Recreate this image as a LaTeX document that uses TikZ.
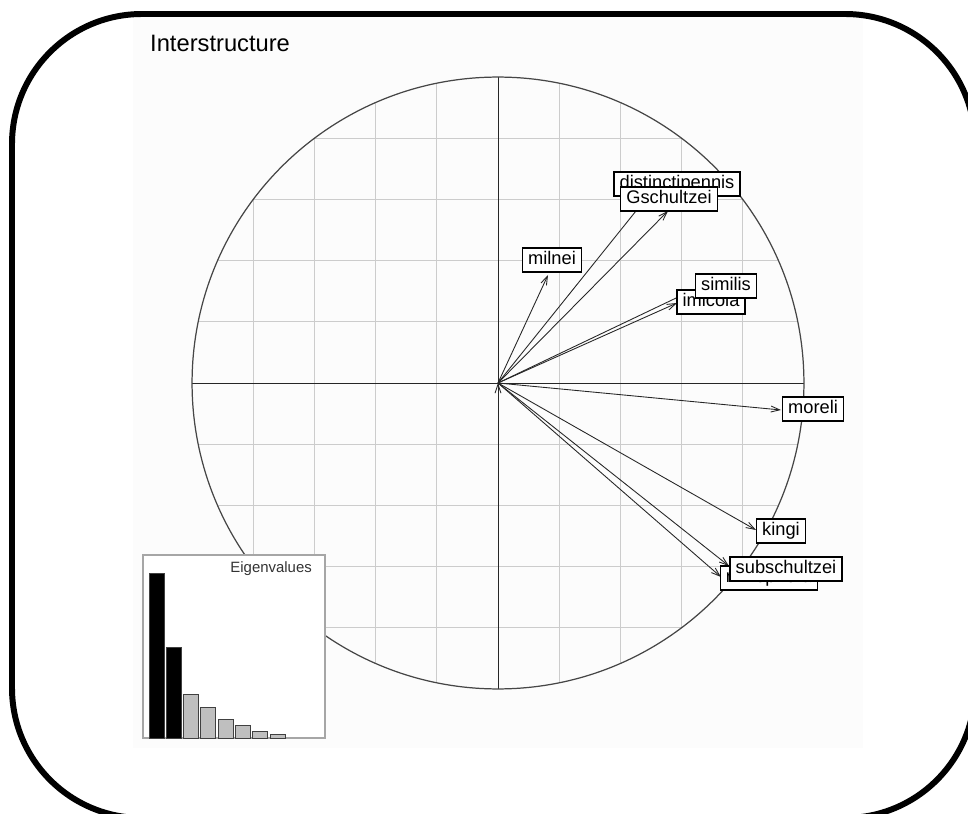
\documentclass[tikz,border=0pt]{standalone}
\usepackage{fontspec}
\setmainfont{Liberation Sans}
\usetikzlibrary{arrows.meta}

\begin{document}
\begin{tikzpicture}[x=0.02cm,y=-0.02cm,>={Straight Barb[length=5pt,width=3.4pt]},
  lbl/.style={draw=black,fill=white,line width=0.7pt,inner xsep=3.2pt,inner ysep=0pt,
    minimum height=0.48cm,text height=7.6pt,text depth=2.2pt,font=\fontsize{10.4}{12}\selectfont},
  vec/.style={->,draw=black!85,line width=0.5pt},
  gridline/.style={draw=gray!40,line width=0.4pt},
  bar/.style={draw=black!75,line width=0.5pt}]
  \useasboundingbox (0,0) rectangle (968,814);
  \fill[gray!2] (133,14) rectangle (863,748);
  \node[anchor=base west,font=\fontsize{13.5}{16}\selectfont] (title) at (144,52) {Interstructure};

  \coordinate (o) at (498,383);
  \begin{scope}
    \clip (o) circle (6.12cm);
    \foreach \k in {-4,...,4} {
      \draw[gridline] ({498+\k*61.2},77) -- ({498+\k*61.2},689);
      \draw[gridline] (192,{383+\k*61.2}) -- (804,{383+\k*61.2});
    }
  \end{scope}
  \draw[black!85,line width=0.5pt] (192,383) -- (804,383) (498,77) -- (498,689);
  \draw[gray!55!black,line width=0.7pt] (o) circle (6.12cm);

  \coordinate (milnei tip) at (548,275);
  \coordinate (distinct tip) at (648,196);
  \coordinate (gschultzei tip) at (668,211);
  \coordinate (similis tip) at (695,289);
  \coordinate (imicola tip) at (677,303);
  \coordinate (moreli tip) at (781,410);
  \coordinate (kingi tip) at (756,530);
  \coordinate (subschultzei tip) at (729,566);
  \coordinate (rhizo tip) at (721,577);

  \path[vec] (o) edge (milnei tip)
                 edge (distinct tip)
                 edge (gschultzei tip)
                 edge (similis tip)
                 edge (imicola tip)
                 edge (moreli tip)
                 edge (kingi tip)
                 edge (subschultzei tip)
                 edge (rhizo tip);

  \node[lbl] (distinct) at (677,184) {distinctipennis};
  \node[lbl] (gschultzei) at (669,199) {Gschultzei};
  \node[lbl] (milnei) at (552,260) {milnei};
  \node[lbl] (imicola) at (711,302) {imicola};
  \node[lbl] (similis) at (726,286) {similis};
  \node[lbl] (moreli) at (813,409) {moreli};
  \node[lbl] (kingi) at (781,531) {kingi};
  \node[lbl] (rhizo) at (769,578) {rhizophora};
  \node[lbl] (subschultzei) at (786,569) {subschultzei};

  \filldraw[fill=white,draw=gray!70,line width=0.6pt] (143,555) rectangle (325,738);
  \node[anchor=base east,text=black!80,font=\fontsize{8.5}{10}\selectfont] (eig) at (318,572) {Eigenvalues};
  \foreach \h [count=\i from 0] in {573,647}
    \filldraw[bar,fill=black] ({149+17.3*\i},738) rectangle ({164+17.3*\i},\h);
  \foreach \h [count=\i from 2] in {694,707,719,725,731,734}
    \filldraw[bar,fill=gray!50] ({149+17.3*\i},738) rectangle ({164+17.3*\i},\h);

  \draw[line width=3.4pt,rounded corners=2.6cm] (12,14) rectangle (975,818);
\end{tikzpicture}
\end{document}
